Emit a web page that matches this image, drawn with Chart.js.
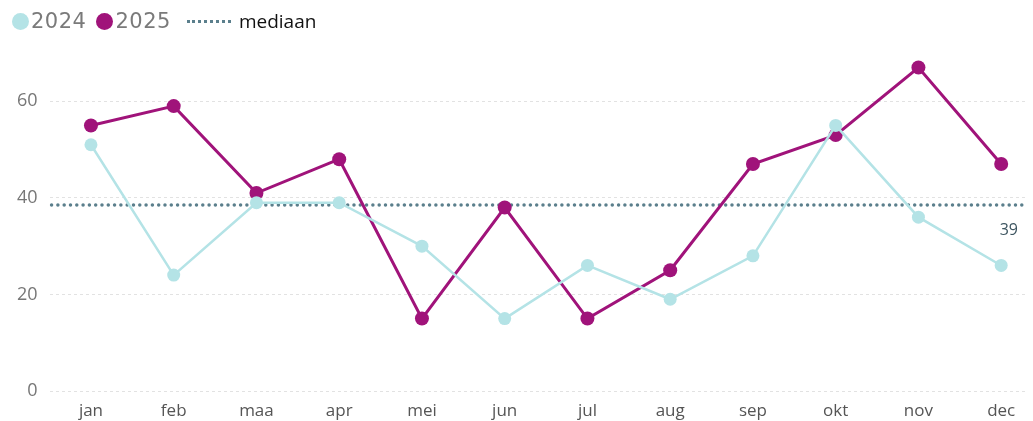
<!DOCTYPE html>
<html>
<head>
<meta charset="utf-8">
<script src="https://cdn.jsdelivr.net/npm/chart.js@4.4.1/dist/chart.umd.min.js"></script>
<style>
  html, body { margin: 0; padding: 0; background: #fff; }
  #wrap { position: relative; width: 1033px; height: 421px; overflow: hidden; }
  #legend { position: absolute; left: 12px; top: 8px; display: flex; align-items: center; z-index: 2; }
  .item { display: flex; align-items: center; margin-right: 10px; }
  .dot { width: 17px; height: 17px; border-radius: 50%; margin-right: 2px; }
  .year { font-family: "DejaVu Sans", sans-serif; font-size: 21px; letter-spacing: 0.5px; color: #7a7a7a; }
  .med { display: flex; align-items: center; margin-left: 6px; }
  .medline { width: 44px; height: 0; border-top: 3px dotted #5b7f8c; margin-right: 8px; }
  .medtxt { font-size: 19px; color: #111; font-family: "Open Sans", sans-serif; }
  canvas { position: absolute; left: 0; top: 0; }
</style>
</head>
<body>
<div id="wrap">
  <div id="legend"></div>
  <canvas id="chart" width="1033" height="421"></canvas>
</div>
<script>
const months = ["jan", "feb", "maa", "apr", "mei", "jun", "jul", "aug", "sep", "okt", "nov", "dec"];
const series = ["2024", "2025"];
const colors = ["#b4e3e6", "#a0137a"];
const values2024 = [51, 24, 39, 39, 30, 15, 26, 19, 28, 55, 36, 26];
const values2025 = [55, 59, 41, 48, 15, 38, 15, 25, 47, 53, 67, 47];
const median = 38.5;
const medianColor = "#5b7f8c";
const yTicks = [0, 20, 40, 60];

// legend
const legend = document.getElementById("legend");
series.forEach((name, i) => {
  const el = document.createElement("div");
  el.className = "item";
  el.innerHTML = `<span class="dot" style="background:${colors[i]}"></span><span class="year">${name}</span>`;
  legend.appendChild(el);
});
const med = document.createElement("div");
med.className = "med";
med.innerHTML = `<span class="medline"></span><span class="medtxt">mediaan</span>`;
legend.appendChild(med);

const toPoints = arr => arr.map((v, i) => ({ x: i, y: v }));

const medianPlugin = {
  id: "median",
  beforeDatasetsDraw(chart) {
    const { ctx, chartArea, scales } = chart;
    const y = scales.y.getPixelForValue(median);
    ctx.save();
    ctx.strokeStyle = medianColor;
    ctx.lineWidth = 3.5;
    ctx.lineCap = "round";
    ctx.setLineDash([0, 6.3]);
    ctx.beginPath();
    ctx.moveTo(chartArea.left + 2, y);
    ctx.lineTo(chartArea.right, y);
    ctx.stroke();
    ctx.setLineDash([]);
    ctx.fillStyle = "#3d5560";
    ctx.font = "16px 'Open Sans', sans-serif";
    ctx.textAlign = "right";
    ctx.textBaseline = "middle";
    ctx.fillText(String(Math.round(median)), chartArea.right - 8, y + 25);
    ctx.restore();
  }
};

new Chart(document.getElementById("chart"), {
  type: "line",
  data: {
    datasets: [
      {
        label: series[0],
        data: toPoints(values2024),
        borderColor: colors[0],
        backgroundColor: colors[0],
        borderWidth: 2.5,
        pointRadius: 6.5,
        pointHoverRadius: 6.5,
        pointBorderWidth: 0,
        tension: 0
      },
      {
        label: series[1],
        data: toPoints(values2025),
        borderColor: colors[1],
        backgroundColor: colors[1],
        borderWidth: 3,
        pointRadius: 7,
        pointHoverRadius: 7,
        pointBorderWidth: 0,
        tension: 0
      }
    ]
  },
  options: {
    responsive: false,
    animation: false,
    layout: { padding: { top: 53, right: 0, bottom: 0, left: 5 } },
    plugins: { legend: { display: false }, tooltip: { enabled: false } },
    scales: {
      x: {
        type: "linear",
        min: -0.5,
        max: 11.3,
        afterBuildTicks: axis => { axis.ticks = months.map((m, i) => ({ value: i })); },
        afterFit: axis => { axis.height = 30; },
        ticks: {
          callback: v => months[v],
          color: "#555",
          font: { family: "'Open Sans', sans-serif", size: 17 },
          padding: 10,
          maxRotation: 0,
          autoSkip: false
        },
        grid: { display: false, drawTicks: false, tickLength: 0 },
        border: { display: false }
      },
      y: {
        min: 0,
        max: 70,
        afterBuildTicks: axis => { axis.ticks = yTicks.map(v => ({ value: v })); },
        ticks: {
          color: "#777",
          font: { family: "'Open Sans', sans-serif", size: 18 },
          padding: 12
        },
        grid: {
          color: "#e2e2e2",
          lineWidth: 1,
          drawTicks: false
        },
        border: { display: false, dash: [3, 3] }
      }
    }
  },
  plugins: [medianPlugin]
});
</script>
</body>
</html>
